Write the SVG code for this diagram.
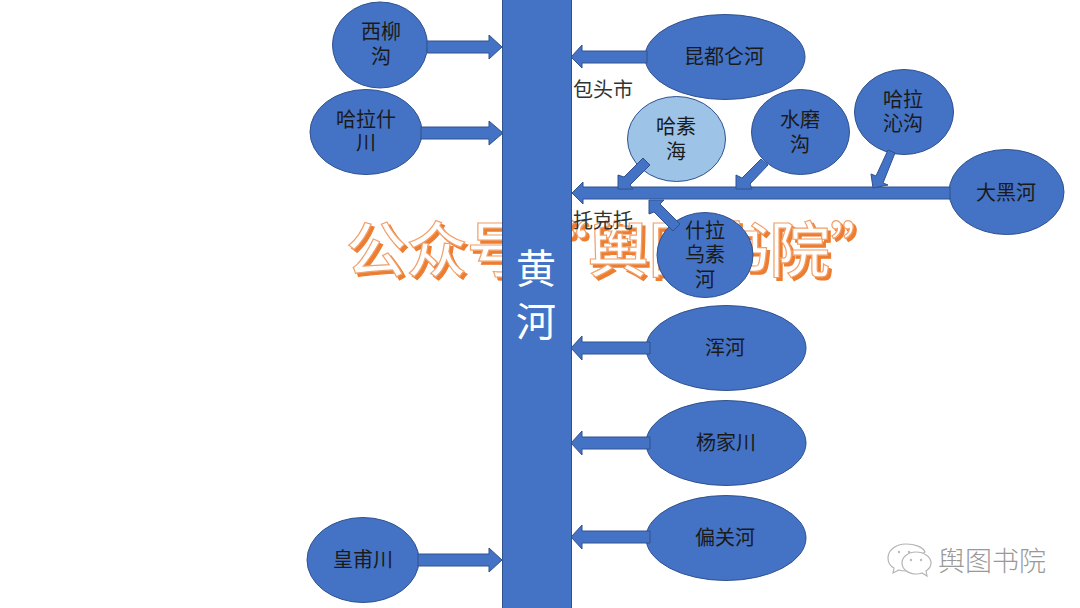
<svg xmlns="http://www.w3.org/2000/svg" width="1080" height="608" viewBox="0 0 1080 608">
<style>
text{font-family:"Noto Sans CJK SC","Noto Sans",sans-serif;text-anchor:middle}
.n{fill:#4472c4;stroke:#2f528f;stroke-width:1}
.a{fill:#4472c4;stroke:#2f528f;stroke-width:1}
.t{font-size:20px;fill:#1a1a1a}
.l{font-size:20px;fill:#333;text-anchor:start}
.w{font-size:60.500px;font-weight:500;text-anchor:start}
</style>
<rect width="1080" height="608" fill="#fff"/>
<g id="watermark">
<text class="w" x="349" y="275" fill="#ed7d31" stroke="#ed7d31" stroke-width="1.200">公众号“舆图书院”</text>
<text class="w" x="346" y="272" fill="#fff" stroke="#f2a06a" stroke-width="1.200">公众号“舆图书院”</text>
</g>
<g id="huanghe"><rect class="n" x="502.500" y="-1" width="69" height="610"/>
<text x="536" y="283" font-size="40" fill="#fff">黄</text><text x="536" y="336" font-size="40" fill="#fff">河</text></g>
<g id="xiliugou"><ellipse class="n" cx="380" cy="45" rx="47.500" ry="43"/><text class="t" x="381" y="39">西柳</text><text class="t" x="381" y="64">沟</text></g>
<g id="halashichuan"><ellipse class="n" cx="366" cy="132" rx="56" ry="42.500"/><text class="t" x="366" y="127">哈拉什</text><text class="t" x="366" y="150">川</text></g>
<g id="huangfuchuan"><ellipse class="n" cx="363" cy="560" rx="56" ry="42.500"/><text class="t" x="363" y="567">皇甫川</text></g>
<g id="kundulun"><ellipse class="n" cx="725" cy="57" rx="80" ry="42.500"/><text class="t" x="724" y="64">昆都仑河</text></g>
<g id="hasuhai"><ellipse cx="676.500" cy="139" rx="49" ry="42.500" fill="#9dc3e6" stroke="#2f528f"/><text class="t" x="676" y="134">哈素</text><text class="t" x="676" y="159">海</text></g>
<g id="shuimogou"><ellipse class="n" cx="800.500" cy="132" rx="49" ry="42.500"/><text class="t" x="800" y="127">水磨</text><text class="t" x="800" y="152">沟</text></g>
<g id="halaqingou"><ellipse class="n" cx="904" cy="112" rx="49.500" ry="42.500"/><text class="t" x="903" y="107">哈拉</text><text class="t" x="903" y="131">沁沟</text></g>
<g id="daheihe"><ellipse class="n" cx="1006.500" cy="192" rx="57.500" ry="42.500"/><text class="t" x="1006" y="200">大黑河</text></g>
<g id="shilawusuhe"><ellipse class="n" cx="705" cy="255" rx="48" ry="42.500"/><text class="t" x="705" y="238">什拉</text><text class="t" x="705" y="262">乌素</text><text class="t" x="705" y="287">河</text></g>
<g id="hunhe"><ellipse class="n" cx="726" cy="348" rx="80" ry="42.500"/><text class="t" x="725" y="355">浑河</text></g>
<g id="yangjiachuan"><ellipse class="n" cx="726" cy="443" rx="80" ry="42.500"/><text class="t" x="726" y="450">杨家川</text></g>
<g id="pianguanhe"><ellipse class="n" cx="726" cy="538" rx="80" ry="42.500"/><text class="t" x="725" y="545">偏关河</text></g>
<g id="connectors">
<polygon class="a" points="427,41 489,41 489,35 502,47 489,59 489,53 427,53"/>
<polygon class="a" points="421,127 489,127 489,121 503,133 489,145 489,139 421,139"/>
<polygon class="a" points="418,554 489,554 489,548 502,560 489,572 489,566 418,566"/>
<polygon class="a" points="647,51 582,51 582,45 571,57 582,68 582,63 647,63"/>
<polygon class="a" points="650,342 582,342 582,336 571,348 582,360 582,354 650,354"/>
<polygon class="a" points="650,437 582,437 582,431 571,443 582,455 582,449 650,449"/>
<polygon class="a" points="650,531 582,531 582,525 571,537 582,549 582,543 650,543"/>
<polygon class="a" points="950,187 583,187 583,182 572,193 583,204 583,199 950,199"/>
<polygon class="a" points="643,158 650,165 630,185 633,189 618,189 618,175 624,177"/>
<polygon class="a" points="761,159 768,165 750,184 752,189 736,189 736,175 742,178"/>
<polygon class="a" points="888,150 895,153 883,183 888,185 873,188 871,174 876,176"/>
<polygon class="a" points="673,231 680,224 660,204 664,200 649,200 649,214 654,212"/>
</g>
<g id="labels"><text class="l" x="573" y="97">包头市</text><text class="l" x="573" y="228">托克托</text></g>
<g id="wechat" fill="#fff" stroke="#b5b5b5" stroke-width="1.200">
<path d="M906 544c-10 0-18 6-18 14 0 4 2 8 6 10l-1 5 6-3c2 1 5 1 7 1 6 0 9-2 10-4 -1-8 4-13 9-15-2-5-10-8-19-8z"/>
<path d="M916 552c-8 0-14 5-14 11s6 11 14 11c2 0 4 0 6-1l5 3-1-5c3-2 5-5 5-8 0-6-7-11-15-11z"/>
<circle cx="899" cy="552" r="1.200" fill="#bbb" stroke="none"/><circle cx="909" cy="552" r="1.200" fill="#bbb" stroke="none"/>
<circle cx="911" cy="560" r="1.200" fill="#bbb" stroke="none"/><circle cx="921" cy="560" r="1.200" fill="#bbb" stroke="none"/>
</g>
<g id="brand"><text x="992" y="571" font-size="27" font-weight="300" fill="#999">舆图书院</text></g>
</svg>
